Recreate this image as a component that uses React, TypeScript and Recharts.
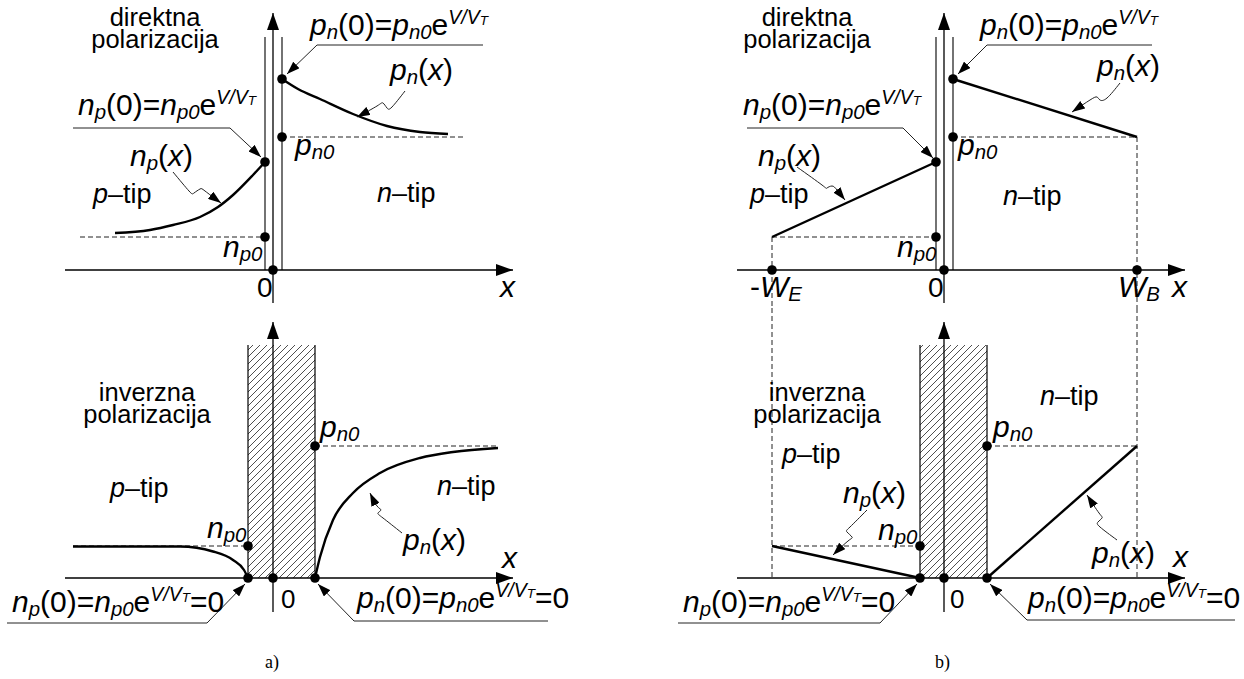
import React from 'react';
import { ComposedChart, Line, Scatter, XAxis, YAxis, ReferenceArea, ReferenceDot } from 'recharts';

// x: distance from the metallurgical junction, y: minority carrier concentration (arbitrary units)

// --- a) long regions, forward bias ---
const aFwdNp = [
  { x: -15.8, y: 3.7 }, { x: -12.3, y: 4.0 }, { x: -10.0, y: 4.5 }, { x: -7.3, y: 5.3 },
  { x: -5.5, y: 6.3 }, { x: -4.0, y: 7.5 }, { x: -2.0, y: 9.5 }, { x: -0.8, y: 10.8 },
];
const aFwdPn = [
  { x: 0.9, y: 19.1 }, { x: 2.5, y: 18.1 }, { x: 4.7, y: 17.1 }, { x: 8.0, y: 15.6 },
  { x: 11.4, y: 14.4 }, { x: 14.7, y: 13.8 }, { x: 17.5, y: 13.6 },
];
// --- a) long regions, reverse bias ---
const aRevNp = [
  { x: -20.0, y: 3.15 }, { x: -9.3, y: 3.15 }, { x: -6.0, y: 2.65 }, { x: -4.0, y: 1.8 },
  { x: -2.9, y: 0.8 }, { x: -2.5, y: 0 },
];
const aRevPn = [
  { x: 4.2, y: 0 }, { x: 4.7, y: 2.1 }, { x: 6.0, y: 5.8 }, { x: 8.0, y: 8.5 },
  { x: 10.7, y: 10.5 }, { x: 14.7, y: 12.0 }, { x: 18.0, y: 12.6 }, { x: 22.5, y: 13.0 },
];
// --- b) short regions (linear profiles) ---
const bFwdNp = [{ x: -17.2, y: 3.3 }, { x: -0.8, y: 10.8 }];
const bFwdPn = [{ x: 0.9, y: 19.1 }, { x: 19.3, y: 13.3 }];
const bRevNp = [{ x: -17.2, y: 3.2 }, { x: -2.4, y: 0 }];
const bRevPn = [{ x: 4.3, y: 0 }, { x: 19.3, y: 13.2 }];

// equilibrium levels and depletion edges
const fwdLevels = [3.3, 10.8, 13.3, 19.1]; // np0, np(0), pn0, pn(0)
const revLevels = [3.2, 13.2]; // np0, pn0
const fwdEdges = [-0.8, 0.9];
const aRevEdges = [-2.5, 4.2];
const bRevEdges = [-2.4, 4.3];
const wE = -17.2;
const wB = 19.3;

// leader lines (end = arrow tip)
const aFwdLeaders = [
  [{ x: -20, y: 14.2 }, { x: -4.3, y: 14.2 }, { x: -1.2, y: 11.3 }],
  [{ x: 21, y: 22.5 }, { x: 4.4, y: 22.5 }, { x: 1.4, y: 19.6 }],
];
const aFwdWavy = [
  [{ x: -10.0, y: 9.8 }, { x: -8.4, y: 7.9 }, { x: -7.9, y: 7.7 }, { x: -7.3, y: 8.1 }, { x: -6.8, y: 7.9 }, { x: -5.2, y: 6.7 }],
  [{ x: 13.2, y: 17.9 }, { x: 11.9, y: 16.3 }, { x: 11.4, y: 16.2 }, { x: 11.0, y: 16.7 }, { x: 10.4, y: 16.4 }, { x: 8.4, y: 15.3 }],
];
const aRevLeaders = [
  [{ x: -26.6, y: -4.5 }, { x: -6.6, y: -4.5 }, { x: -2.8, y: -0.6 }],
  [{ x: 27.5, y: -4.3 }, { x: 8.1, y: -4.3 }, { x: 4.5, y: -0.6 }],
];
const aRevWavy = [
  [{ x: 12.9, y: 4.5 }, { x: 11.0, y: 6.0 }, { x: 10.5, y: 6.5 }, { x: 10.8, y: 6.8 }, { x: 10.4, y: 7.2 }, { x: 9.7, y: 8.5 }],
];
const bFwdLeaders = [
  [{ x: -19.7, y: 14.2 }, { x: -4.1, y: 14.2 }, { x: -1.1, y: 11.2 }],
  [{ x: 20.8, y: 22.5 }, { x: 4.3, y: 22.5 }, { x: 1.4, y: 19.6 }],
];
const bFwdWavy = [
  [{ x: -14.7, y: 10.3 }, { x: -12.2, y: 8.5 }, { x: -11.7, y: 8.2 }, { x: -11.2, y: 8.4 }, { x: -10.7, y: 8.0 }, { x: -9.9, y: 7.0 }],
  [{ x: 17.6, y: 18.7 }, { x: 16.3, y: 17.2 }, { x: 15.6, y: 17.0 }, { x: 15.3, y: 17.3 }, { x: 14.6, y: 17.0 }, { x: 12.8, y: 15.8 }],
];
const bRevLeaders = [
  [{ x: -26.6, y: -4.5 }, { x: -6.4, y: -4.5 }, { x: -2.7, y: -0.6 }],
  [{ x: 29.1, y: -4.2 }, { x: 8.3, y: -4.2 }, { x: 4.6, y: -0.6 }],
];
const bRevWavy = [
  [{ x: -7.7, y: 6.8 }, { x: -9.4, y: 5.1 }, { x: -9.7, y: 4.6 }, { x: -9.2, y: 4.1 }, { x: -9.6, y: 3.7 }, { x: -11.1, y: 2.3 }],
  [{ x: 17.3, y: 3.8 }, { x: 15.6, y: 5.1 }, { x: 15.4, y: 5.6 }, { x: 15.8, y: 6.0 }, { x: 15.5, y: 6.5 }, { x: 14.3, y: 8.3 }],
];

const SANS = "'Liberation Sans', Arial, sans-serif";
const SERIF = "'Liberation Serif', 'Times New Roman', serif";

type Seg = [string, string];
const STY: Record<string, { s: number; dy: number; it: boolean }> = {
  n: { s: 1, dy: 0, it: false },
  i: { s: 1, dy: 0, it: true },
  s: { s: 0.68, dy: 0.12, it: true },
  u: { s: 0.65, dy: -0.36, it: true },
  t: { s: 0.45, dy: -0.34, it: true },
};

const NP0V: Seg[] = [['n', 'i'], ['p', 's'], ['(0)=', 'n'], ['n', 'i'], ['p0', 's'], ['e', 'n'], ['V/V', 'u'], ['T', 't']];
const PN0V: Seg[] = [['p', 'i'], ['n', 's'], ['(0)=', 'n'], ['p', 'i'], ['n0', 's'], ['e', 'n'], ['V/V', 'u'], ['T', 't']];
const NP0VZ: Seg[] = [...NP0V, ['=0', 'n']];
const PN0VZ: Seg[] = [...PN0V, ['=0', 'n']];
const NPX: Seg[] = [['n', 'i'], ['p', 's'], ['(', 'n'], ['x', 'i'], [')', 'n']];
const PNX: Seg[] = [['p', 'i'], ['n', 's'], ['(', 'n'], ['x', 'i'], [')', 'n']];
const NP0: Seg[] = [['n', 'i'], ['p0', 's']];
const PN0: Seg[] = [['p', 'i'], ['n0', 's']];
const PTIP: Seg[] = [['p', 'i'], ['\u2013tip', 'n']];
const NTIP: Seg[] = [['n', 'i'], ['\u2013tip', 'n']];
const XL: Seg[] = [['x', 'i']];
const ZERO: Seg[] = [['0', 'n']];

type Lbl = { x: number; y: number; segs?: Seg[]; rows?: string[]; size?: number; anchor?: string; font?: string };

function MathText({ x, y, segs, size = 30, anchor = 'start', font = SANS }: any) {
  let off = 0;
  const spans = segs.map(([t, k]: Seg, i: number) => {
    const st = STY[k];
    const target = st.dy * size;
    const dy = target - off;
    off = target;
    return (
      <tspan key={i} dy={dy} fontSize={st.s * size} fontStyle={st.it ? 'italic' : 'normal'}>
        {t}
      </tspan>
    );
  });
  return (
    <text x={x} y={y} fontFamily={font} fill="#000" textAnchor={anchor}>
      {spans}
    </text>
  );
}

// two-line caption in a single text element
function RowsText({ x, y, rows, size = 25.5 }: any) {
  return (
    <text x={x} y={y} fontFamily={SANS} fontSize={size} fill="#000" textAnchor="middle">
      {rows.map((r: string, i: number) => (
        <tspan key={i} x={x} dy={i === 0 ? 0 : 21.5}>
          {r}
        </tspan>
      ))}
    </text>
  );
}

const plain = (s: string): Seg[] => [[s, 'n']];
const FWD = ['direktna', 'polarizacija'];
const REV = ['inverzna', 'polarizacija'];

const aFwdLabels: Lbl[] = [
  { x: -11.8, y: 24.4, rows: FWD },
  { x: -19.5, y: 15.5, segs: NP0V },
  { x: -14.3, y: 10.4, segs: NPX },
  { x: -18.0, y: 6.7, segs: PTIP, size: 27 },
  { x: -5.0, y: 1.3, segs: NP0 },
  { x: -1.6, y: -2.7, segs: ZERO, size: 28 },
  { x: 3.7, y: 23.5, segs: PN0V },
  { x: 11.7, y: 19.0, segs: PNX },
  { x: 2.2, y: 11.5, segs: PN0 },
  { x: 10.4, y: 6.8, segs: NTIP, size: 27 },
  { x: 22.7, y: -2.7, segs: XL },
];
const aRevLabels: Lbl[] = [
  { x: -12.6, y: 17.7, rows: REV },
  { x: -16.3, y: 8.1, segs: PTIP, size: 27 },
  { x: -6.6, y: 4.0, segs: NP0 },
  { x: -26.1, y: -3.4, segs: NP0VZ },
  { x: 0.8, y: -3.0, segs: ZERO, size: 26 },
  { x: 22.9, y: 1.0, segs: XL },
  { x: 4.7, y: 14.1, segs: PN0 },
  { x: 16.4, y: 8.3, segs: NTIP, size: 27 },
  { x: 13.0, y: 2.8, segs: PNX },
  { x: 8.4, y: -3.0, segs: PN0VZ },
  { x: -0.8, y: -9.0, segs: plain('a)'), size: 18, font: SERIF },
];
const bFwdLabels: Lbl[] = [
  { x: -13.7, y: 24.4, rows: FWD },
  { x: -20.1, y: 15.5, segs: NP0V },
  { x: -18.6, y: 10.4, segs: NPX },
  { x: -19.4, y: 6.7, segs: PTIP, size: 27 },
  { x: -4.7, y: 1.3, segs: NP0 },
  { x: -1.6, y: -2.7, segs: ZERO, size: 28 },
  { x: -19.4, y: -2.7, segs: [['-', 'n'], ['W', 'i'], ['E', 's']] },
  { x: 17.4, y: -2.7, segs: [['W', 'i'], ['B', 's']] },
  { x: 22.8, y: -2.7, segs: XL },
  { x: 3.6, y: 23.5, segs: PN0V },
  { x: 15.3, y: 19.4, segs: PNX },
  { x: 1.4, y: 11.5, segs: PN0 },
  { x: 5.9, y: 6.5, segs: NTIP, size: 27 },
];
const bRevLabels: Lbl[] = [
  { x: -12.7, y: 17.7, rows: REV },
  { x: -16.2, y: 11.5, segs: PTIP, size: 27 },
  { x: -10.1, y: 7.5, segs: NPX },
  { x: -6.6, y: 3.8, segs: NP0 },
  { x: -26.1, y: -3.4, segs: NP0VZ },
  { x: 0.6, y: -3.0, segs: ZERO, size: 26 },
  { x: 8.4, y: -3.0, segs: PN0VZ },
  { x: 9.6, y: 17.3, segs: NTIP, size: 27 },
  { x: 4.9, y: 14.1, segs: PN0 },
  { x: 14.8, y: 1.5, segs: PNX },
  { x: 22.9, y: 1.1, segs: XL },
  { x: -0.9, y: -9.0, segs: plain('b)'), size: 18, font: SERIF },
];

type LineSpec = { pts: { x: number; y: number }[]; w?: number; c?: string; dash?: string; mark?: string; type?: any };

const seg = (x1: number, y1: number, x2: number, y2: number) => [{ x: x1, y: y1 }, { x: x2, y: y2 }];

function axes(xl: number, xr: number, yb: number, yt: number): LineSpec[] {
  return [
    { pts: seg(xl, 0, xr, 0), w: 1.3, mark: 'url(#ax)' },
    { pts: seg(0, yb, 0, yt), w: 1.3, mark: 'url(#ax)' },
  ];
}
const DASH = '5 3';
const leaders = (ls: { x: number; y: number }[][], type: any = 'linear'): LineSpec[] =>
  ls.map((pts) => ({ pts, w: 1, c: '#222', mark: 'url(#ld)', type }));

const aFwdLines: LineSpec[] = [
  ...axes(-20.8, 24, -3.3, 25.7),
  { pts: seg(fwdEdges[0], 0, fwdEdges[0], 23.3), w: 1.1 },
  { pts: seg(fwdEdges[1], 0, fwdEdges[1], 23.3), w: 1.1 },
  { pts: seg(-19.3, fwdLevels[0], fwdEdges[0], fwdLevels[0]), w: 1, dash: DASH, c: '#222' },
  { pts: seg(fwdEdges[1], fwdLevels[2], 19.2, fwdLevels[2]), w: 1, dash: DASH, c: '#222' },
  { pts: aFwdNp, w: 2.4, type: 'monotone' },
  { pts: aFwdPn, w: 2.4, type: 'monotone' },
  ...leaders(aFwdLeaders),
  ...leaders(aFwdWavy, 'natural'),
];
const aRevLines: LineSpec[] = [
  ...axes(-20.8, 24, -3.4, 25.6),
  { pts: seg(aRevEdges[0], 0, aRevEdges[0], 23.3), w: 1.2 },
  { pts: seg(aRevEdges[1], 0, aRevEdges[1], 23.3), w: 1.2 },
  { pts: seg(-20, revLevels[0], aRevEdges[0], revLevels[0]), w: 1, dash: DASH, c: '#222' },
  { pts: seg(aRevEdges[1], revLevels[1], 22.5, revLevels[1]), w: 1, dash: DASH, c: '#222' },
  { pts: aRevNp, w: 2.4, type: 'monotone' },
  { pts: aRevPn, w: 2.4, type: 'monotone' },
  ...leaders(aRevLeaders),
  ...leaders(aRevWavy, 'natural'),
];
const bFwdLines: LineSpec[] = [
  ...axes(-20.7, 24.1, -3.3, 25.7),
  { pts: seg(fwdEdges[0], 0, fwdEdges[0], 23.3), w: 1.1 },
  { pts: seg(fwdEdges[1], 0, fwdEdges[1], 23.3), w: 1.1 },
  { pts: seg(wE, fwdLevels[0], fwdEdges[0], fwdLevels[0]), w: 1, dash: DASH, c: '#222' },
  { pts: seg(wE, fwdLevels[0], wE, -3.8), w: 1, dash: DASH, c: '#222' },
  { pts: seg(fwdEdges[1], fwdLevels[2], wB, fwdLevels[2]), w: 1, dash: DASH, c: '#222' },
  { pts: seg(wB, fwdLevels[2], wB, -3.8), w: 1, dash: DASH, c: '#222' },
  { pts: bFwdNp, w: 2.4 },
  { pts: bFwdPn, w: 2.4 },
  ...leaders(bFwdLeaders),
  ...leaders(bFwdWavy, 'natural'),
];
const bRevLines: LineSpec[] = [
  ...axes(-20.7, 24.1, -3.4, 25.6),
  { pts: seg(bRevEdges[0], 0, bRevEdges[0], 23.3), w: 1.2 },
  { pts: seg(bRevEdges[1], 0, bRevEdges[1], 23.3), w: 1.2 },
  { pts: seg(wE, 27, wE, 0), w: 1, dash: DASH, c: '#222' },
  { pts: seg(wB, 27, wB, 0), w: 1, dash: DASH, c: '#222' },
  { pts: seg(wE, revLevels[0], bRevEdges[0], revLevels[0]), w: 1, dash: DASH, c: '#222' },
  { pts: seg(bRevEdges[1], revLevels[1], wB, revLevels[1]), w: 1, dash: DASH, c: '#222' },
  { pts: bRevNp, w: 2.4 },
  { pts: bRevPn, w: 2.4 },
  ...leaders(bRevLeaders),
  ...leaders(bRevWavy, 'natural'),
];

const aFwdDots = [
  { x: 0, y: 0 }, { x: fwdEdges[0], y: fwdLevels[0] }, { x: fwdEdges[0], y: fwdLevels[1] },
  { x: fwdEdges[1], y: fwdLevels[2] }, { x: fwdEdges[1], y: fwdLevels[3] },
];
const bFwdDots = [...aFwdDots, { x: wE, y: 0 }, { x: wB, y: 0 }];
const aRevDots = [
  { x: aRevEdges[0], y: 0 }, { x: 0, y: 0 }, { x: aRevEdges[1], y: 0 },
  { x: aRevEdges[0], y: revLevels[0] }, { x: aRevEdges[1], y: revLevels[1] },
];
const bRevDots = [
  { x: bRevEdges[0], y: 0 }, { x: 0, y: 0 }, { x: bRevEdges[1], y: 0 },
  { x: bRevEdges[0], y: revLevels[0] }, { x: bRevEdges[1], y: revLevels[1] },
];

function Panel({ w, h, xd, yd, lines, dots, labels, hatch }: any) {
  return (
    <ComposedChart width={w} height={h} margin={{ top: 0, right: 0, bottom: 0, left: 0 }}>
      <XAxis type="number" dataKey="x" domain={xd} hide allowDataOverflow />
      <YAxis type="number" dataKey="y" domain={yd} hide allowDataOverflow />
      {hatch && (
        <ReferenceArea x1={hatch[0]} x2={hatch[1]} y1={0} y2={23.3} fill="url(#hatch)" fillOpacity={1} stroke="none" ifOverflow="visible" />
      )}
      {lines.map((l: LineSpec, i: number) => (
        <Line
          key={i}
          data={l.pts}
          dataKey="y"
          type={l.type || 'linear'}
          stroke={l.c || '#000'}
          strokeWidth={l.w || 1}
          strokeDasharray={l.dash}
          markerEnd={l.mark}
          dot={false}
          activeDot={false}
          isAnimationActive={false}
        />
      ))}
      <Scatter
        data={dots}
        isAnimationActive={false}
        shape={(p: any) => <circle cx={p.cx} cy={p.cy} r={4.8} fill="#000" />}
      />
      {labels.map((lb: Lbl, i: number) => (
        <ReferenceDot
          key={'l' + i}
          x={lb.x}
          y={lb.y}
          ifOverflow="visible"
          shape={(p: any) =>
            lb.rows ? (
              <RowsText x={p.cx} y={p.cy} rows={lb.rows} />
            ) : (
              <MathText x={p.cx} y={p.cy} segs={lb.segs} size={lb.size} anchor={lb.anchor} font={lb.font} />
            )
          }
        />
      ))}
    </ComposedChart>
  );
}

export default function App() {
  return (
    <div style={{ position: 'absolute', left: 0, top: 0, width: 1244, height: 679, background: '#fff', overflow: 'hidden' }}>
      <svg width={0} height={0} style={{ position: 'absolute' }}>
        <defs>
          <marker id="ax" viewBox="0 0 17 12" refX={17} refY={6} markerWidth={17} markerHeight={12} markerUnits="userSpaceOnUse" orient="auto">
            <path d="M0,0 L17,6 L0,12 z" fill="#000" />
          </marker>
          <marker id="ld" viewBox="0 0 13 9" refX={13} refY={4.5} markerWidth={13} markerHeight={9} markerUnits="userSpaceOnUse" orient="auto">
            <path d="M0,0 L13,4.5 L0,9 z" fill="#000" />
          </marker>
          <pattern id="hatch" width={7} height={7} patternUnits="userSpaceOnUse">
            <path d="M-1,1 L1,-1 M0,7 L7,0 M6,8 L8,6" stroke="#222" strokeWidth={0.8} />
          </pattern>
        </defs>
      </svg>
      <div style={{ position: 'absolute', left: 3, top: 0 }}>
        <Panel w={620} h={308} xd={[-27, 35]} yd={[-3.8, 27]} lines={aFwdLines} dots={aFwdDots} labels={aFwdLabels} />
      </div>
      <div style={{ position: 'absolute', left: 3, top: 308 }}>
        <Panel w={620} h={371} xd={[-27, 35]} yd={[-10.1, 27]} lines={aRevLines} dots={aRevDots} labels={aRevLabels} hatch={aRevEdges} />
      </div>
      <div style={{ position: 'absolute', left: 624, top: 0 }}>
        <Panel w={620} h={308} xd={[-32, 30]} yd={[-3.8, 27]} lines={bFwdLines} dots={bFwdDots} labels={bFwdLabels} />
      </div>
      <div style={{ position: 'absolute', left: 624, top: 308 }}>
        <Panel w={620} h={371} xd={[-32, 30]} yd={[-10.1, 27]} lines={bRevLines} dots={bRevDots} labels={bRevLabels} hatch={bRevEdges} />
      </div>
    </div>
  );
}
